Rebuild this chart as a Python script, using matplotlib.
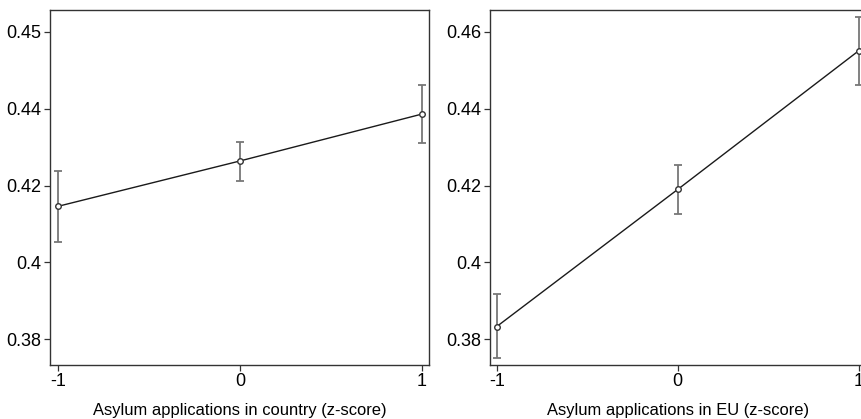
import numpy as np
import matplotlib.pyplot as plt

plt.rcParams['font.family'] = ['Liberation Sans', 'DejaVu Sans']

# z-score levels
x_vals = [-1, 0, 1]

# left panel: asylum applications in country
country_mean = [0.4146, 0.4264, 0.4386]
country_lo = [0.4054, 0.4213, 0.4310]
country_hi = [0.4238, 0.4314, 0.4461]

# right panel: asylum applications in EU
eu_mean = [0.3833, 0.4190, 0.4551]
eu_lo = [0.3750, 0.4126, 0.4462]
eu_hi = [0.3918, 0.4254, 0.4639]

y_ticks = [0.38, 0.40, 0.42, 0.44, 0.46]
left_tick_labels = ['0.38', '0.4', '0.42', '0.44', '0.45']
right_tick_labels = ['0.38', '0.4', '0.42', '0.44', '0.46']
x_labels = ['Asylum applications in country (z-score)',
            'Asylum applications in EU (z-score)']

W, H = 862, 419
fig = plt.figure(figsize=(W / 100, H / 100), dpi=100)
fig.patch.set_facecolor('white')

ax1 = fig.add_axes([50 / W, (H - 365) / H, 379 / W, 355 / H])
ax2 = fig.add_axes([490 / W, (H - 365) / H, 376 / W, 355 / H])


def draw_panel(ax, mean, lo, hi, ylabels, xlabel):
    mean = np.array(mean)
    err = [mean - np.array(lo), np.array(hi) - mean]
    ax.errorbar(x_vals, mean, yerr=err, fmt='none', ecolor='#777777',
                elinewidth=1.3, capsize=3, capthick=1.3, zorder=2)
    ax.plot(x_vals, mean, color='#1a1a1a', lw=1.0, marker='o', ms=4,
            mfc='white', mec='#333333', mew=1.0, zorder=3)
    ax.set_xlim(-1.044, 1.04)
    ax.set_ylim(0.3733, 0.4657)
    ax.set_xticks(x_vals)
    ax.set_xticklabels(['-1', '0', '1'])
    ax.set_yticks(y_ticks)
    ax.set_yticklabels(ylabels)
    ax.tick_params(axis='both', direction='out', length=4, width=0.9,
                   color='#333333', labelsize=13, pad=2)
    for sp in ax.spines.values():
        sp.set_color('#333333')
        sp.set_linewidth(1.0)
    ax.set_xlabel(xlabel, fontsize=11.9, labelpad=9)


draw_panel(ax1, country_mean, country_lo, country_hi, left_tick_labels, x_labels[0])
draw_panel(ax2, eu_mean, eu_lo, eu_hi, right_tick_labels, x_labels[1])
ax2.set_xlim(-1.037, 1.04)

fig.savefig('out.png', dpi=100)
